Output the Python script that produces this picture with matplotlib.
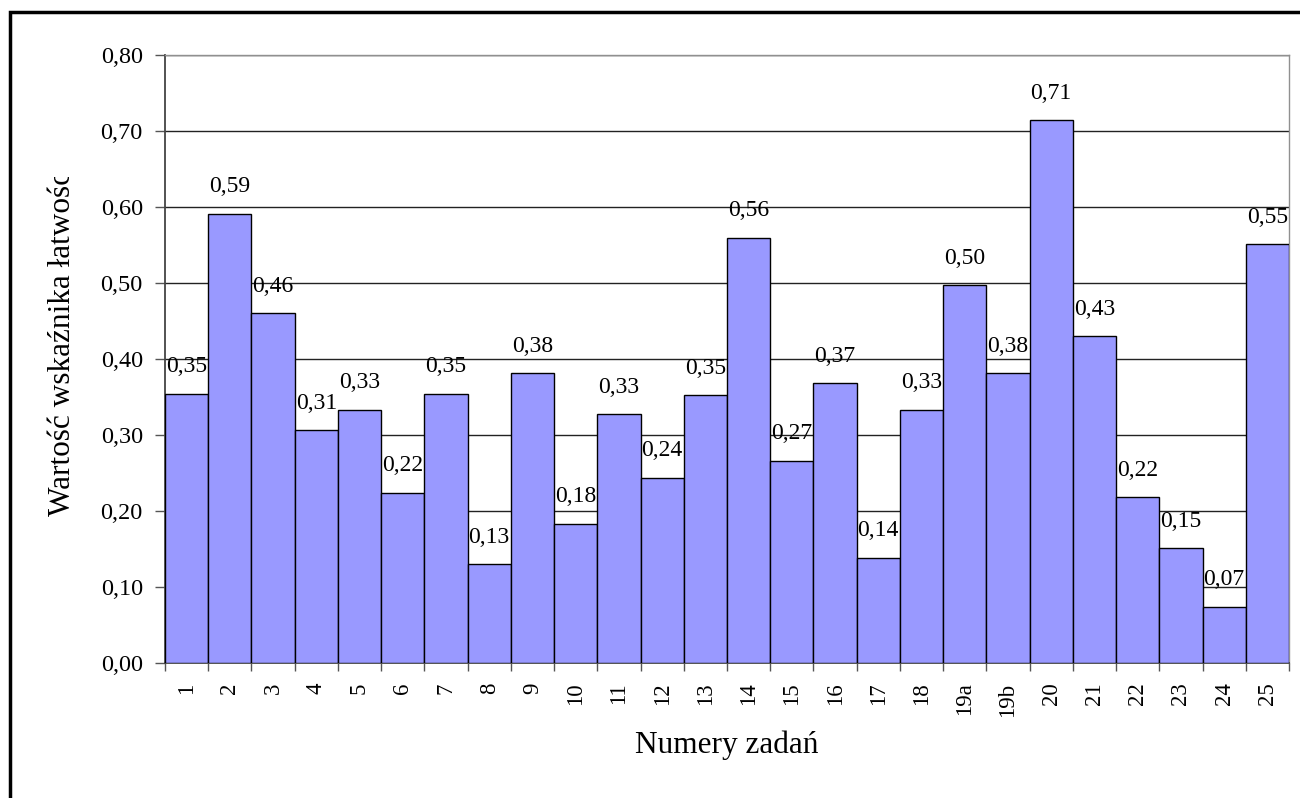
import matplotlib
matplotlib.use('Agg')
import matplotlib.pyplot as plt
from matplotlib.patches import Rectangle
from matplotlib.transforms import Bbox, TransformedBbox
from matplotlib.ticker import FuncFormatter, FixedLocator
import numpy as np

plt.rcParams['font.family'] = ['Liberation Serif', 'DejaVu Serif']

zadania = ['1', '2', '3', '4', '5', '6', '7', '8', '9', '10', '11', '12', '13',
           '14', '15', '16', '17', '18', '19a', '19b', '20', '21', '22', '23', '24', '25']
wartosci = [0.354, 0.591, 0.460, 0.306, 0.333, 0.224, 0.354, 0.130, 0.381, 0.183,
            0.327, 0.244, 0.352, 0.559, 0.266, 0.368, 0.138, 0.333, 0.497, 0.381,
            0.714, 0.430, 0.218, 0.151, 0.074, 0.551]
yticks = [0.0, 0.1, 0.2, 0.3, 0.4, 0.5, 0.6, 0.7, 0.8]


def fmt(v):
    return ('%.2f' % v).replace('.', ',')


W, H = 1300, 798
fig = plt.figure(figsize=(13, 7.98), dpi=100)
ax = fig.add_axes([165 / W, 1 - 663 / H, (1289 - 165) / W, (663 - 55) / H])

x = np.arange(len(zadania))
ax.bar(x, wartosci, width=1.0, color='#9999FF', edgecolor='black', linewidth=1.0, zorder=3)

for xi, v in zip(x, wartosci):
    ax.annotate(fmt(v), (xi, v), xytext=(0, 12), textcoords='offset points',
                ha='center', va='bottom', fontsize=17, zorder=4)

ax.set_xlim(-0.5, len(zadania) - 0.5)
ax.set_ylim(0, 0.8)
ax.set_yticks(yticks)
ax.yaxis.set_major_formatter(FuncFormatter(lambda v, p: fmt(v)))
ax.set_xticks(x)
ax.set_xticklabels(zadania, rotation=90, fontsize=16.5)
ax.xaxis.set_minor_locator(FixedLocator(np.arange(-0.5, len(zadania), 1.0)))
ax.tick_params(axis='x', which='major', length=0, pad=14)
ax.tick_params(axis='x', which='minor', length=5.5, width=1, color='#555555', direction='out')
ax.tick_params(axis='y', length=7, width=1, color='#555555', labelsize=17.5, pad=9)

ax.grid(axis='y', color='#222222', linewidth=1.0, zorder=0)
ax.set_axisbelow(True)
for s in ['top', 'right']:
    ax.spines[s].set_color('#909090')
    ax.spines[s].set_linewidth(1.0)
for s in ['left', 'bottom']:
    ax.spines[s].set_color('#444444')
    ax.spines[s].set_linewidth(1.3)

ax.set_xlabel('Numery zadań', fontsize=22.5, labelpad=10)

# os Y - napis przyciety u gory jak w oryginale
yl = fig.text(63 / W, 1 - 339 / H, 'Wartość wskaźnika łatwości', rotation=90,
              ha='center', va='center', fontsize=22.5)
yl.set_clip_box(TransformedBbox(Bbox([[0, 0], [1, 1 - 177 / H]]), fig.transFigure))
yl.set_clip_on(True)

# ramka wykresu
fig.patches.append(Rectangle((10 / W, -0.1), 1.2, 1 - 12 / H + 0.1, transform=fig.transFigure,
                             fill=False, edgecolor='black', linewidth=2.5))

fig.savefig('out.png', dpi=100)
